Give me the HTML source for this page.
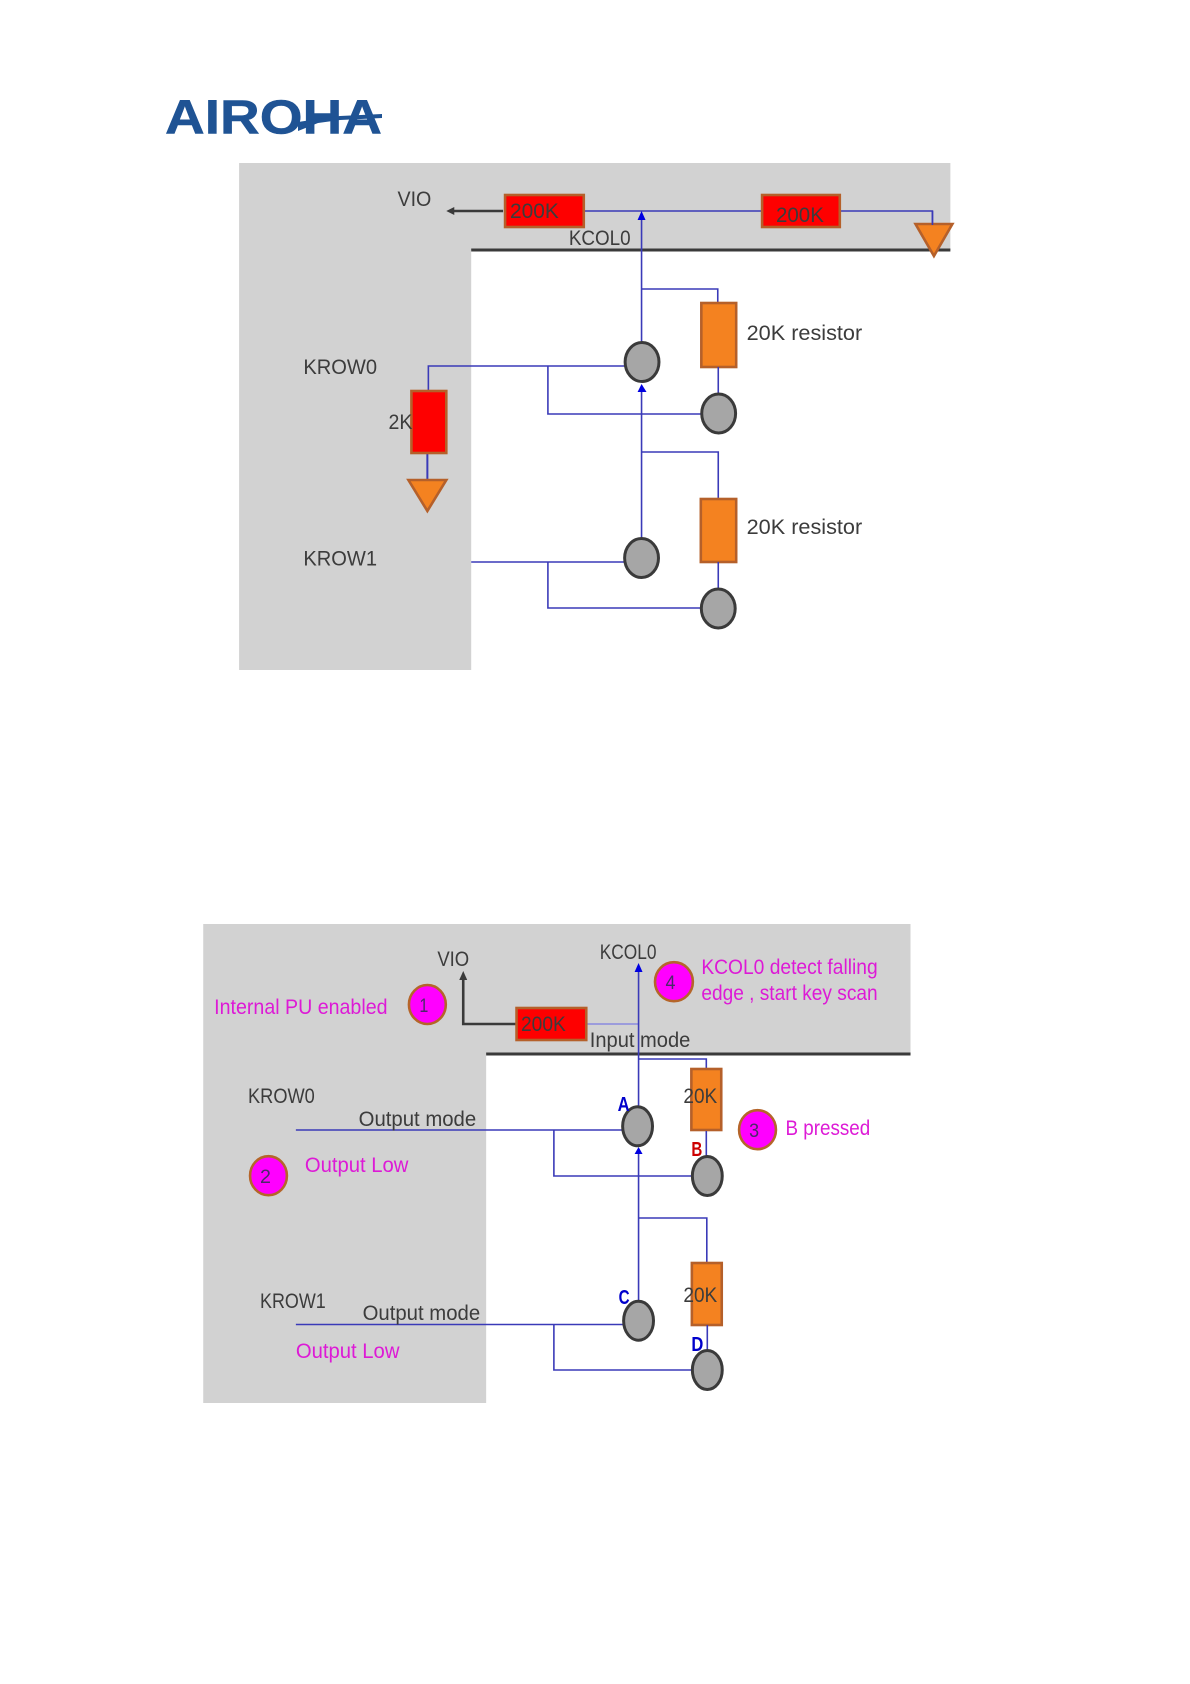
<!DOCTYPE html>
<html lang="en">
<head>
<meta charset="utf-8">
<title>Keypad diagram</title>
<style>
html,body{margin:0;padding:0;background:#fff}
svg{display:block}
text{font-family:"Liberation Sans",sans-serif;font-size:21px;fill:#3c3c3c}
.m{fill:#dd1ad6}
.n{font-size:19px;fill:#4a2a6a}
.b{font-weight:bold;font-size:20px}
.w{fill:none;stroke:#3a3ab8;stroke-width:1.6}
.k{fill:none;stroke:#3a3a3a;stroke-width:2.6}
.r{fill:#fe0000;stroke:#b5602a;stroke-width:2.6}
.o{fill:#f48220;stroke:#b5602a;stroke-width:2.6}
.c{fill:#a6a6a6;stroke:#3a3a3a;stroke-width:3}
.p{fill:#ff00ff;stroke:#b5652a;stroke-width:2.6}
</style>
</head>
<body>
<svg width="1190" height="1684" viewBox="0 0 1190 1684" xmlns="http://www.w3.org/2000/svg">
<!-- Logo -->
<text x="165" y="133.5" textLength="217" lengthAdjust="spacingAndGlyphs" style="font-size:48px;font-weight:bold;fill:#1f5394;stroke:#1f5394;stroke-width:.5">AIROHA</text>
<polygon points="298,122 318,119 340,116 382,114 382,118 340,120 318,123 298,131" fill="#1f5394"/>

<g transform="scale(0.9962,1)">
<!-- Top diagram -->
<path d="M240 163H954V250H473V670H240Z" fill="#d2d2d2"/>
<path d="M473 250H954" class="k" style="stroke-width:3"/>
<path d="M505 211H452" class="k"/>
<polygon points="448,211 456,207 456,215" fill="#3a3a3a"/>
<path d="M586 211H764M843 211H936V225" class="w"/>
<path d="M644 214V342M644 289H720.5V303" class="w"/>
<polygon points="644,211 640,220 648,220" fill="#0000e0"/>
<rect x="507" y="195" width="79" height="32" class="r"/>
<rect x="765" y="195" width="78" height="32" class="r"/>
<polygon points="919,224 956,224 937.5,256" class="o"/>
<path d="M936 211V225" class="w"/>
<rect x="704" y="303" width="35" height="64" class="o"/>
<path d="M721 367V393" class="w"/>
<path d="M430 390V366H627M550 366V414H705" class="w"/>
<path d="M429 453V479" class="w" style="stroke-width:2"/>
<rect x="413" y="391" width="35" height="62" class="r"/>
<polygon points="410,480 448,480 429,511" class="o"/>
<path d="M644 388V538M644 452H721V498" class="w"/>
<polygon points="644,384 640,392 649,392" fill="#0000e0"/>
<rect x="703.5" y="499" width="35.5" height="63" class="o"/>
<path d="M721 562V589" class="w"/>
<path d="M473 562H627M550 562V608H705" class="w"/>
<ellipse cx="644.5" cy="362" rx="17" ry="19.5" class="c"/>
<ellipse cx="721.4" cy="413.5" rx="17" ry="19.5" class="c"/>
<ellipse cx="644" cy="558" rx="17" ry="19.5" class="c"/>
<ellipse cx="721" cy="608.5" rx="17" ry="19.5" class="c"/>
<text x="399" y="206" textLength="34" lengthAdjust="spacingAndGlyphs">VIO</text>
<text x="512" y="218" textLength="49" lengthAdjust="spacingAndGlyphs">200K</text>
<text x="779" y="222" textLength="48" lengthAdjust="spacingAndGlyphs">200K</text>
<text x="571" y="245" textLength="62" lengthAdjust="spacingAndGlyphs">KCOL0</text>
<text x="749.5" y="340" textLength="116" lengthAdjust="spacingAndGlyphs">20K resistor</text>
<text x="749.5" y="534" textLength="116" lengthAdjust="spacingAndGlyphs">20K resistor</text>
<text x="304.5" y="374" textLength="74" lengthAdjust="spacingAndGlyphs">KROW0</text>
<text x="304.5" y="565.5" textLength="74" lengthAdjust="spacingAndGlyphs">KROW1</text>
<text x="390" y="429" textLength="24" lengthAdjust="spacingAndGlyphs">2K</text>

<!-- Bottom diagram -->
<path d="M204 924H914V1054H488V1403H204Z" fill="#d2d2d2"/>
<path d="M488 1054H914" class="k" style="stroke-width:3"/>
<path d="M465 977V1024H518" class="k"/>
<polygon points="465,971 461,980 469,980" fill="#3a3a3a"/>
<path d="M588 1024H641" fill="none" stroke="#8a8ae0" stroke-width="1.6"/>
<path d="M641 968V1107M641 1059H709V1068" class="w"/>
<polygon points="641,963 637,972 645,972" fill="#0000e0"/>
<rect x="518.5" y="1008" width="70" height="32" class="r"/>
<rect x="694" y="1069" width="30" height="61" class="o"/>
<path d="M709 1131V1156" class="w"/>
<path d="M297 1130H625M556 1130V1176H694" class="w"/>
<path d="M641 1150V1301M641 1218H709.5V1262" class="w"/>
<polygon points="641,1147 637,1154 645,1154" fill="#0000e0"/>
<rect x="694.5" y="1263" width="30" height="62" class="o"/>
<path d="M710 1325V1351" class="w"/>
<path d="M297 1324.5H625M556 1324.5V1370H694" class="w"/>
<ellipse cx="640" cy="1126.3" rx="15" ry="19.5" class="c"/>
<ellipse cx="710" cy="1176" rx="15" ry="19.5" class="c"/>
<ellipse cx="641" cy="1320.7" rx="15" ry="19.5" class="c"/>
<ellipse cx="710" cy="1370" rx="15" ry="19.5" class="c"/>
<ellipse cx="429" cy="1004.5" rx="18.5" ry="19.5" class="p"/>
<ellipse cx="676.5" cy="981.7" rx="19" ry="19.5" class="p"/>
<ellipse cx="760.4" cy="1129.7" rx="18.5" ry="19.5" class="p"/>
<ellipse cx="269.5" cy="1175.7" rx="18.5" ry="19.5" class="p"/>
<text class="n" x="421" y="1012" textLength="9" lengthAdjust="spacingAndGlyphs">1</text>
<text class="n" x="261" y="1183" textLength="11" lengthAdjust="spacingAndGlyphs">2</text>
<text class="n" x="752" y="1137" textLength="10" lengthAdjust="spacingAndGlyphs">3</text>
<text class="n" x="668" y="989" textLength="10" lengthAdjust="spacingAndGlyphs">4</text>
<text x="439" y="966" textLength="32" lengthAdjust="spacingAndGlyphs">VIO</text>
<text x="602" y="959" textLength="57" lengthAdjust="spacingAndGlyphs">KCOL0</text>
<text x="523" y="1031" textLength="45" lengthAdjust="spacingAndGlyphs">200K</text>
<text x="592" y="1047" textLength="101" lengthAdjust="spacingAndGlyphs">Input mode</text>
<text x="686" y="1103" textLength="34" lengthAdjust="spacingAndGlyphs">20K</text>
<text x="686" y="1302" textLength="34" lengthAdjust="spacingAndGlyphs">20K</text>
<text x="249" y="1103" textLength="67" lengthAdjust="spacingAndGlyphs">KROW0</text>
<text x="261" y="1308" textLength="66" lengthAdjust="spacingAndGlyphs">KROW1</text>
<text x="360" y="1126" textLength="118" lengthAdjust="spacingAndGlyphs">Output mode</text>
<text x="364" y="1320" textLength="118" lengthAdjust="spacingAndGlyphs">Output mode</text>
<text class="m" x="215" y="1014" textLength="174" lengthAdjust="spacingAndGlyphs">Internal PU enabled</text>
<text class="m" x="704" y="974" textLength="177" lengthAdjust="spacingAndGlyphs">KCOL0 detect falling</text>
<text class="m" x="704" y="1000" textLength="177" lengthAdjust="spacingAndGlyphs">edge , start key scan</text>
<text class="m" x="788.5" y="1135" textLength="85" lengthAdjust="spacingAndGlyphs">B pressed</text>
<text class="m" x="306" y="1172" textLength="104" lengthAdjust="spacingAndGlyphs">Output Low</text>
<text class="m" x="297" y="1358" textLength="104" lengthAdjust="spacingAndGlyphs">Output Low</text>
<text class="b" x="620" y="1111" textLength="12" lengthAdjust="spacingAndGlyphs" style="fill:#0000cc">A</text>
<text class="b" x="694" y="1156" textLength="11" lengthAdjust="spacingAndGlyphs" style="fill:#cc0000">B</text>
<text class="b" x="621" y="1304" textLength="11" lengthAdjust="spacingAndGlyphs" style="fill:#0000cc">C</text>
<text class="b" x="694" y="1351" textLength="12" lengthAdjust="spacingAndGlyphs" style="fill:#0000cc">D</text>
</g>
</svg>
</body>
</html>
